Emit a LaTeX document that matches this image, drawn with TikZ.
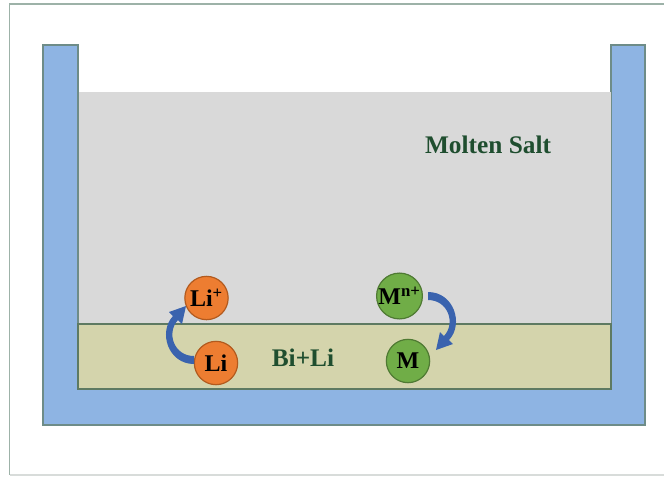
\documentclass[tikz,border=0pt]{standalone}
\usepackage{fontspec}
\setmainfont{Liberation Serif}
\usetikzlibrary{calc}

\definecolor{wallblue}{HTML}{8EB4E3}
\definecolor{wallline}{HTML}{6E8C88}
\definecolor{saltgray}{HTML}{D9D9D9}
\definecolor{alloytan}{HTML}{D4D4AC}
\definecolor{alloyline}{HTML}{5E7A62}
\definecolor{labelgreen}{HTML}{1F4E2F}
\definecolor{liorange}{HTML}{ED7D31}
\definecolor{liedge}{HTML}{B25A1E}
\definecolor{mgreen}{HTML}{70AD47}
\definecolor{medge}{HTML}{4F7A33}
\definecolor{arrowblue}{HTML}{3A63AE}
\definecolor{framegray}{HTML}{9DB2A8}
\definecolor{framelight}{HTML}{D8DCDA}

\tikzset{
  ion/.style={circle, minimum size=32.5pt, inner sep=0pt, line width=0.9pt,
              font=\fontsize{18}{20}\selectfont\bfseries},
  liion/.style={ion, fill=liorange, draw=liedge},
  mion/.style={ion, fill=mgreen, draw=medge},
  phaselabel/.style={text=labelgreen, font=\fontsize{19}{22}\selectfont\bfseries},
  turnarrow/.style={fill=arrowblue, draw=none}
}

% curved tapered arrow, tail near (194,360), tip near (185,307)
\newcommand{\turnarrowpath}{%
  (194,364) .. controls (168,364) and (158,332) .. (173,316)
  -- (169,312) -- (186,306) -- (182,324) -- (178,320)
  .. controls (166,333) and (174,356) .. (194,356) -- cycle}

\begin{document}
\begin{tikzpicture}[x=0.75pt, y=-0.75pt]
  \useasboundingbox (0,0) rectangle (664,476);
  \fill[white] (0,0) rectangle (664,476);

  % outer frame
  \draw[framegray, line width=0.8pt] (670,4) -- (9.5,4) -- (9.5,475);
  \draw[framelight, line width=0.8pt] (9.5,475) -- (670,475);

  % crucible walls
  \draw[fill=wallblue, draw=wallline, line width=0.9pt]
    (43,45) -- (78,45) -- (78,389) -- (611,389) -- (611,45) -- (645,45)
    -- (645,425) -- (43,425) -- cycle;

  % molten salt and liquid alloy
  \fill[saltgray] (78.5,92) rectangle (610.5,324);
  \draw[fill=alloytan, draw=alloyline, line width=0.9pt] (78,324) rectangle (611,389);

  % labels
  \node[phaselabel] (salt) at (488,145) {Molten Salt};
  \node[phaselabel] (alloy) at (303,358) {Bi+Li};

  % species
  \node[liion] (liplus) at (206.5,298) {Li\textsuperscript{+}};
  \node[liion] (li) at (216,363) {Li};
  \node[mion] (mn) at (399.5,296) {M\textsuperscript{n+}};
  \node[mion] (m) at (408,361) {M};

  % exchange arrows
  \fill[turnarrow] \turnarrowpath;
  \fill[turnarrow, rotate around={180:(311,328)}] \turnarrowpath;
\end{tikzpicture}
\end{document}
